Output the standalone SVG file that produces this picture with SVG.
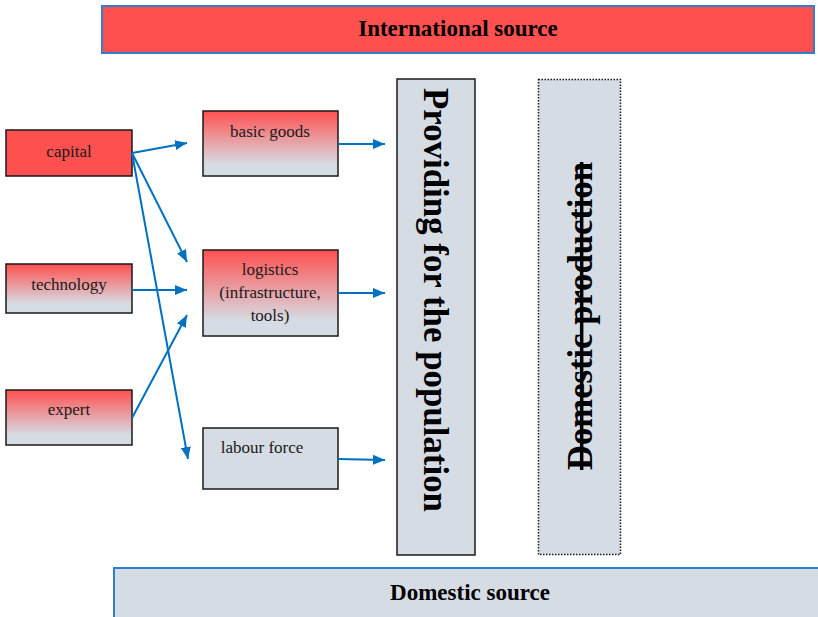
<svg xmlns="http://www.w3.org/2000/svg" width="818" height="617" viewBox="0 0 818 617">
<style>
.box{stroke:#1a1a1a;stroke-width:1.5}
.src{stroke:#2e7fd0;stroke-width:2}
.t{font-family:"Liberation Serif","Times New Roman",serif;font-size:17px;fill:#1a1a1a;text-anchor:middle}
.b{font-family:"Liberation Serif","Times New Roman",serif;font-weight:bold;fill:#000;text-anchor:middle}
.c{stroke:#0070c0;stroke-width:2;fill:none;marker-end:url(#ah)}
</style>
<defs>
<linearGradient id="g" x1="0" y1="0" x2="0" y2="1">
<stop offset="0" stop-color="#ff5050"/>
<stop offset="0.82" stop-color="#d6dce4"/>
<stop offset="1" stop-color="#d6dce4"/>
</linearGradient>
<marker id="ah" markerWidth="12" markerHeight="10" refX="12" refY="5" orient="auto" markerUnits="userSpaceOnUse">
<path d="M0,0 L12,5 L0,10 Z" fill="#0070c0"/>
</marker>
</defs>
<g id="international">
<rect class="src" x="102" y="6" width="712" height="47" fill="#ff5050"/>
<text class="b" x="458" y="36" font-size="23">International source</text>
</g>
<g id="domestic-source">
<rect class="src" x="114" y="568" width="710" height="60" fill="#d6dce4"/>
<text class="b" x="470" y="600" font-size="23">Domestic source</text>
</g>
<g id="providing">
<rect class="box" x="397" y="79" width="78" height="476" fill="#d6dce4"/>
<text class="b" font-size="35" transform="translate(424,300) rotate(90)" textLength="424" lengthAdjust="spacingAndGlyphs">Providing for the population</text>
</g>
<g id="domestic-production">
<rect x="538.5" y="79.5" width="82" height="475" fill="#d6dce4" stroke="#1a1a1a" stroke-width="1.5" stroke-dasharray="1.5,1.5"/>
<text class="b" font-size="35" text-decoration="line-through" transform="translate(592,316) rotate(-90)" textLength="308" lengthAdjust="spacingAndGlyphs">Domestic production</text>
</g>
<g id="capital">
<rect class="box" x="6" y="130" width="126" height="46" fill="#ff5050"/>
<text class="t" x="69" y="157">capital</text>
</g>
<g id="technology">
<rect class="box" x="6" y="264" width="126" height="49" fill="url(#g)"/>
<text class="t" x="69" y="290">technology</text>
</g>
<g id="expert">
<rect class="box" x="6" y="390" width="126" height="55" fill="url(#g)"/>
<text class="t" x="69" y="415">expert</text>
</g>
<g id="basic-goods">
<rect class="box" x="203" y="111" width="135" height="65" fill="url(#g)"/>
<text class="t" x="270" y="137">basic goods</text>
</g>
<g id="logistics">
<rect class="box" x="203" y="250" width="135" height="86" fill="url(#g)"/>
<text class="t" x="270" y="275">logistics</text>
<text class="t" x="270" y="298">(infrastructure,</text>
<text class="t" x="270" y="321">tools)</text>
</g>
<g id="labour-force">
<rect class="box" x="203" y="428" width="135" height="61" fill="#d6dce4"/>
<text class="t" x="262" y="453">labour force</text>
</g>
<g id="connectors">
<line class="c" x1="132" y1="153" x2="187" y2="143"/>
<line class="c" x1="132" y1="153" x2="187" y2="262"/>
<line class="c" x1="132" y1="153" x2="188" y2="459"/>
<line class="c" x1="132" y1="290" x2="187" y2="290"/>
<line class="c" x1="132" y1="418" x2="187" y2="315"/>
<line class="c" x1="338" y1="144" x2="385" y2="144"/>
<line class="c" x1="338" y1="293" x2="385" y2="293"/>
<line class="c" x1="338" y1="459" x2="385" y2="460"/>
</g>
</svg>
